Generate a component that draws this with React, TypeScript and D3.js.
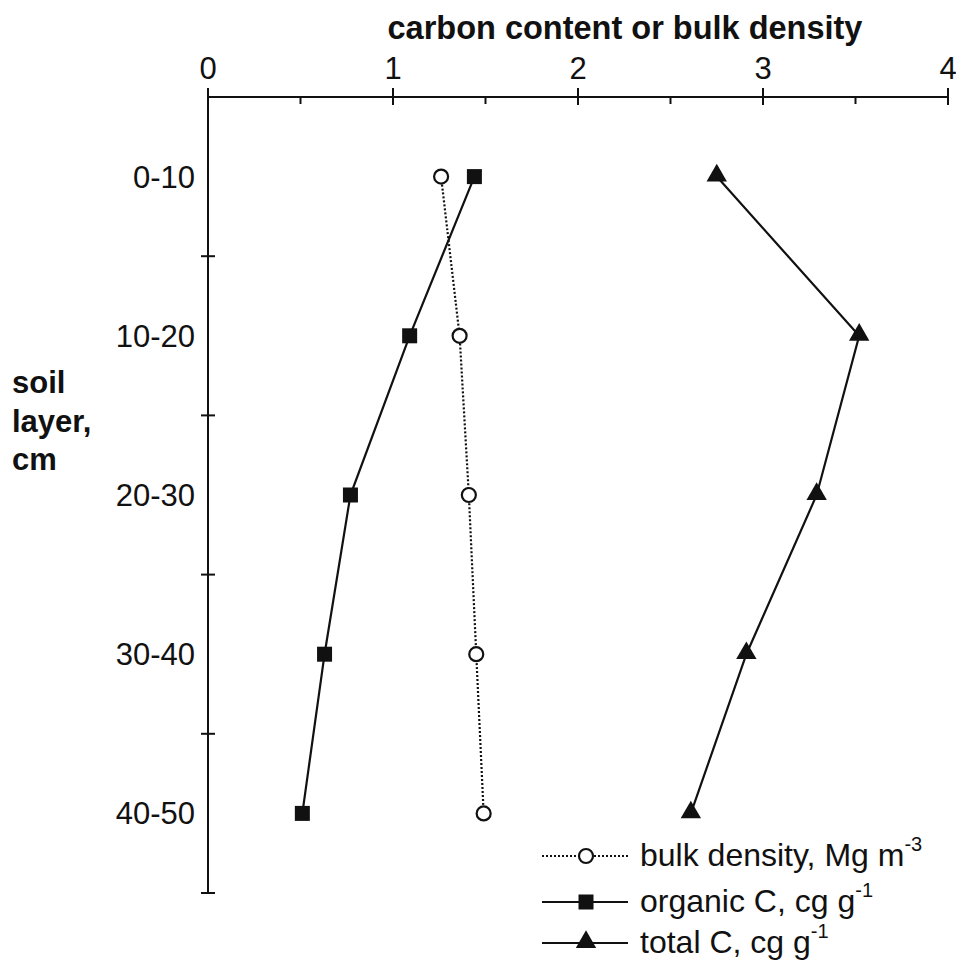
import React from "react";
import * as d3 from "d3";

const layers = ["0-10", "10-20", "20-30", "30-40", "40-50"];
const bulkDensity = [1.26, 1.36, 1.41, 1.45, 1.49];
const organicC = [1.44, 1.09, 0.77, 0.63, 0.51];
const totalC = [2.75, 3.52, 3.29, 2.91, 2.61];
const xTicks = [0, 1, 2, 3, 4];
const xMinorTicks = [0.5, 1.5, 2.5, 3.5];

const W = 956;
const H = 964;
const FONT = "'Liberation Sans', Arial, Helvetica, sans-serif";

export default function App() {
  const x = d3.scaleLinear().domain([0, 4]).range([208, 948]);
  const y = d3.scaleBand<string>().domain(layers).range([97, 893]).padding(0);
  const yc = (l: string) => (y(l) as number) + y.bandwidth() / 2;
  const line = d3
    .line<[number, string]>()
    .x((d) => x(d[0]))
    .y((d) => yc(d[1]));
  const pts = (vals: number[]) => vals.map((v, i) => [v, layers[i]] as [number, string]);
  const tri = d3.symbol().type(d3.symbolTriangle).size(180)();
  const boundaries = layers.map((l) => (y(l) as number) + y.bandwidth());

  const legendRows = [
    { key: "bd", y: 856, label: "bulk density, Mg m", sup: "-3" },
    { key: "oc", y: 902, label: "organic C, cg g", sup: "-1" },
    { key: "tc", y: 943, label: "total C, cg g", sup: "-1" },
  ];

  return (
    <svg width={W} height={H} style={{ position: "absolute", left: 0, top: 0, background: "#fff" }} fontFamily={FONT}>
      <rect x={0} y={0} width={W} height={H} fill="#fff" />
      {/* title */}
      <text x={625} y={39} textAnchor="middle" fontSize={32.5} fontWeight="bold" fill="#111">
        carbon content or bulk density
      </text>
      {/* x axis */}
      <line x1={x(0)} x2={x(4)} y1={97} y2={97} stroke="#111" strokeWidth={2} />
      {xTicks.map((t) => (
        <g key={"xt" + t}>
          <line x1={x(t)} x2={x(t)} y1={88} y2={105} stroke="#111" strokeWidth={2} />
          <text x={x(t)} y={79} textAnchor="middle" fontSize={31} fill="#111">
            {t}
          </text>
        </g>
      ))}
      {xMinorTicks.map((t) => (
        <line key={"xm" + t} x1={x(t)} x2={x(t)} y1={97} y2={104} stroke="#111" strokeWidth={2} />
      ))}
      {/* y axis */}
      <line x1={x(0)} x2={x(0)} y1={97} y2={893} stroke="#111" strokeWidth={2} />
      {boundaries.map((b, i) => (
        <line key={"yb" + i} x1={x(0) - 7} x2={x(0) + 7} y1={b} y2={b} stroke="#111" strokeWidth={2} />
      ))}
      {layers.map((l) => (
        <text key={"yl" + l} x={195} y={yc(l) + 11} textAnchor="end" fontSize={31} fill="#111">
          {l}
        </text>
      ))}
      <text x={12} fontSize={31} fontWeight="bold" fill="#111">
        <tspan x={12} y={393}>soil</tspan>
        <tspan x={12} y={432}>layer,</tspan>
        <tspan x={12} y={470}>cm</tspan>
      </text>
      {/* series lines */}
      <path d={line(pts(bulkDensity)) || ""} fill="none" stroke="#111" strokeWidth={2.2} strokeDasharray="2,2" />
      <path d={line(pts(organicC)) || ""} fill="none" stroke="#111" strokeWidth={2.2} />
      <path d={line(pts(totalC)) || ""} fill="none" stroke="#111" strokeWidth={2.2} />
      {/* markers */}
      {pts(bulkDensity).map((d, i) => (
        <circle key={"bd" + i} cx={x(d[0])} cy={yc(d[1])} r={7} fill="#fff" stroke="#111" strokeWidth={2.2} />
      ))}
      {pts(organicC).map((d, i) => (
        <rect key={"oc" + i} x={x(d[0]) - 7.5} y={yc(d[1]) - 7.5} width={15} height={15} fill="#111" />
      ))}
      {pts(totalC).map((d, i) => (
        <path key={"tc" + i} d={tri || ""} transform={`translate(${x(d[0])},${yc(d[1]) - 1})`} fill="#111" />
      ))}
      {/* legend */}
      {legendRows.map((r) => (
        <g key={r.key}>
          <line
            x1={542}
            x2={628}
            y1={r.y}
            y2={r.y}
            stroke="#111"
            strokeWidth={2}
            strokeDasharray={r.key === "bd" ? "2,2" : undefined}
          />
          {r.key === "bd" && <circle cx={586} cy={r.y} r={7} fill="#fff" stroke="#111" strokeWidth={2.2} />}
          {r.key === "oc" && <rect x={578.5} y={r.y - 7.5} width={15} height={15} fill="#111" />}
          {r.key === "tc" && <path d={tri || ""} transform={`translate(586,${r.y - 1})`} fill="#111" />}
          <text x={640} y={r.y + 10} fontSize={32} fill="#111">
            {r.label}
            <tspan fontSize={20} dy={-15}>
              {r.sup}
            </tspan>
          </text>
        </g>
      ))}
    </svg>
  );
}
